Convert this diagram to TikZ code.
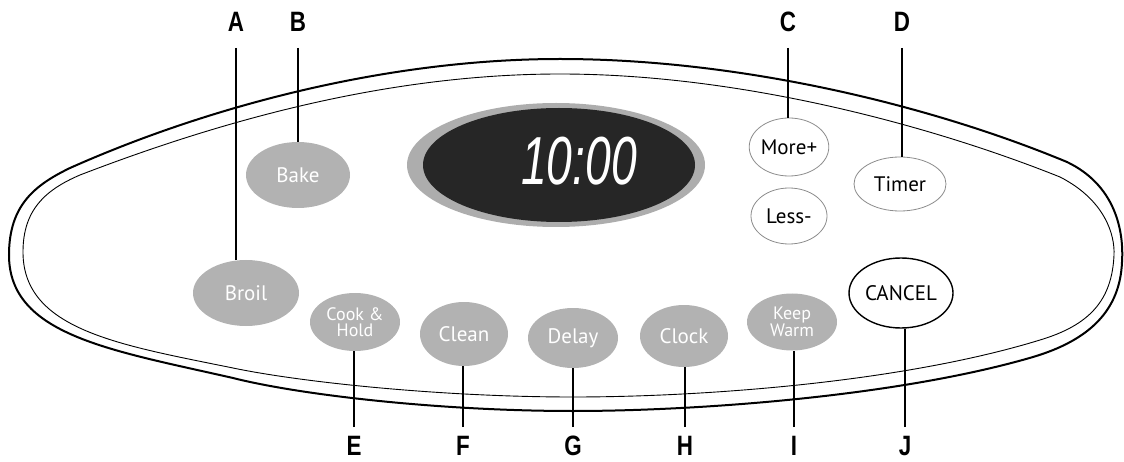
\documentclass[tikz,border=0pt]{standalone}
\usepackage{graphicx}
\usepackage{fontspec}
\setmainfont{PT Sans}
\newfontfamily\lblfont{Liberation Sans}
\newfontfamily\digfont{Liberation Sans}
\usetikzlibrary{shapes.geometric}
\definecolor{btngray}{gray}{0.70}
\definecolor{halo}{gray}{0.68}
\definecolor{dispdark}{gray}{0.15}
\begin{document}
\begin{tikzpicture}[x=1pt,y=-1pt,
  graybtn/.style={ellipse, fill=btngray, draw=none, inner sep=0pt, text=white,
    font=\fontsize{21}{21}\selectfont, align=center},
  graybtnsmall/.style={graybtn, font=\fontsize{18}{16}\selectfont},
  whitebtn/.style={ellipse, fill=white, draw=black!45, line width=0.8pt, inner sep=0pt,
    font=\fontsize{21}{21}\selectfont},
  cancelbtn/.style={ellipse, fill=white, draw=black, line width=1.4pt, inner sep=0pt,
    font=\fontsize{21}{21}\selectfont},
  letter/.style={font=\lblfont\bfseries\fontsize{28}{28}\selectfont, inner sep=0pt},
  leader/.style={line width=1.5pt, black},
  outerline/.style={line width=2pt, black},
  innerline/.style={line width=0.9pt, black}]
\useasboundingbox (0,0) rectangle (1124,462);

% panel outlines
\draw[outerline] (9,255) .. controls (9,205) and (35,185) .. (70,168)
  .. controls (200,110) and (380,59) .. (560,59)
  .. controls (740,59) and (930,105) .. (1067,162)
  .. controls (1115,185) and (1124,230) .. (1122,262)
  .. controls (1120,310) and (1090,340) .. (1033,357)
  .. controls (900,396) and (700,411) .. (573,411)
  .. controls (440,411) and (300,395) .. (233,378)
  .. controls (110,350) and (9,335) .. cycle;
\draw[innerline] (23,252) .. controls (23,210) and (45,190) .. (80,175)
  .. controls (210,125) and (380,74) .. (560,74)
  .. controls (740,74) and (930,125) .. (1060,177)
  .. controls (1105,200) and (1115,235) .. (1114,255)
  .. controls (1112,300) and (1090,325) .. (1040,340)
  .. controls (900,383) and (700,397) .. (573,397)
  .. controls (440,397) and (300,382) .. (233,368)
  .. controls (120,345) and (23,330) .. cycle;

% display
\node[ellipse, fill=halo, minimum width=298, minimum height=124, inner sep=0pt] (halo) at (556,165) {};
\node[ellipse, fill=dispdark, minimum width=272, minimum height=114, inner sep=0pt] (disp) at (559,165) {};
\node[text=white, inner sep=0pt, font=\digfont\itshape\fontsize{68}{68}\selectfont] (time) at (579,161) {\scalebox{0.68}[1]{10:00}};

% buttons
\node[graybtn, minimum width=104, minimum height=66] (bake) at (298,175) {Bake};
\node[graybtn, minimum width=106, minimum height=66] (broil) at (246,293) {Broil};
\node[graybtnsmall, minimum width=90, minimum height=58] (cook) at (355,322) {Cook \&\\Hold};
\node[graybtn, minimum width=88, minimum height=64] (clean) at (464,334) {Clean};
\node[graybtn, minimum width=90, minimum height=60] (delay) at (573,338) {Delay};
\node[graybtn, minimum width=88, minimum height=62] (clock) at (684,336) {Clock};
\node[graybtnsmall, minimum width=90, minimum height=57] (keep) at (792,322) {Keep\\Warm};
\node[whitebtn, minimum width=76, minimum height=58] (more) at (789,147) {More+};
\node[whitebtn, minimum width=76, minimum height=56] (less) at (789,216) {Less-};
\node[whitebtn, minimum width=92, minimum height=54] (timer) at (900,184) {Timer};
\node[cancelbtn, minimum width=104, minimum height=70] (cancel) at (901,293) {CANCEL};

% letters
\node[letter] (A) at (236,22) {\scalebox{0.8}[1]{A}};
\node[letter] (B) at (298,22) {\scalebox{0.8}[1]{B}};
\node[letter] (C) at (788,22) {\scalebox{0.8}[1]{C}};
\node[letter] (D) at (902,22) {\scalebox{0.8}[1]{D}};
\node[letter] (E) at (354,446) {\scalebox{0.8}[1]{E}};
\node[letter] (F) at (463,446) {\scalebox{0.8}[1]{F}};
\node[letter] (G) at (573,446) {\scalebox{0.8}[1]{G}};
\node[letter] (H) at (685,446) {\scalebox{0.8}[1]{H}};
\node[letter] (I) at (794,446) {\scalebox{0.8}[1]{I}};
\node[letter] (J) at (905,446) {\scalebox{0.8}[1]{J}};

% leader ends
\coordinate (a0) at (236,48);
\coordinate (b0) at (298,48);
\coordinate (c0) at (788,48);
\coordinate (d0) at (902,48);
\coordinate (e0) at (354,427);
\coordinate (f0) at (463,427);
\coordinate (g0) at (573,427);
\coordinate (h0) at (685,427);
\coordinate (i0) at (794,427);
\coordinate (j0) at (905,427);

\draw[leader] (a0) -- (a0 |- broil.north);
\draw[leader] (b0) -- (b0 |- bake.north);
\draw[leader] (c0) -- (c0 |- more.north);
\draw[leader] (d0) -- (d0 |- timer.north);
\draw[leader] (e0) -- (e0 |- cook.south);
\draw[leader] (f0) -- (f0 |- clean.south);
\draw[leader] (g0) -- (g0 |- delay.south);
\draw[leader] (h0) -- (h0 |- clock.south);
\draw[leader] (i0) -- (i0 |- keep.south);
\draw[leader] (j0) -- (j0 |- cancel.south);
\end{tikzpicture}
\end{document}
